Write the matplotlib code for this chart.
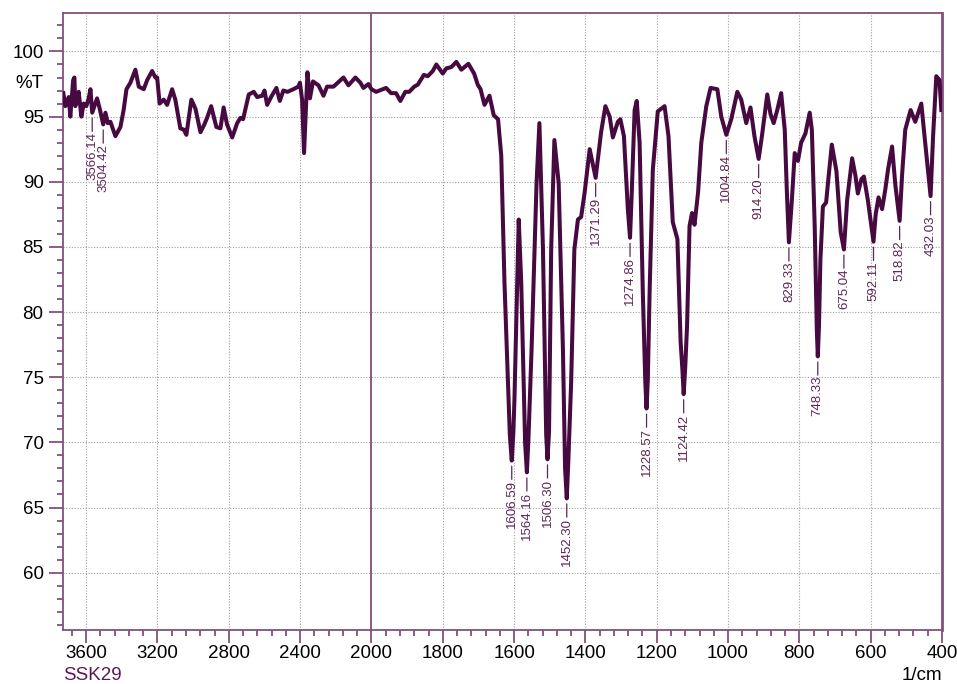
import matplotlib
matplotlib.use("Agg")
import matplotlib.pyplot as plt
import numpy as np
from matplotlib.ticker import FixedLocator, NullFormatter

plt.rcParams['font.family'] = ['Liberation Sans', 'DejaVu Sans']

# FTIR spectrum (wavenumber in 1/cm, %T)
wavenumber = [3728, 3717, 3698, 3689, 3673, 3666, 3661, 3651, 3642, 3627, 3614, 3599, 3586, 3576,
              3566.14, 3554, 3539, 3524, 3504.42, 3492, 3479, 3464, 3436, 3408, 3390, 3374, 3352,
              3324, 3305, 3277, 3258, 3230, 3212, 3202, 3188, 3165, 3146, 3118, 3100, 3072, 3053,
              3038, 3010, 2987, 2959, 2937, 2922, 2899, 2870, 2847, 2829, 2810, 2781, 2753, 2735,
              2720, 2688, 2660, 2641, 2613, 2600, 2585, 2563, 2533, 2514, 2494, 2471, 2438, 2410,
              2401, 2389, 2378, 2359, 2345, 2328, 2297, 2269, 2249, 2213, 2157, 2129, 2090, 2062,
              2045, 2017, 2000, 1987, 1959, 1945, 1931, 1919, 1905, 1894, 1880, 1870, 1853, 1842,
              1828, 1818, 1800, 1790, 1776, 1762, 1748, 1728, 1712, 1702, 1694, 1683, 1669, 1657,
              1645, 1636, 1627, 1617, 1612, 1606.59, 1602, 1599, 1587, 1580, 1569, 1564.16, 1560,
              1551, 1537, 1529, 1519, 1510, 1506.30, 1502, 1496, 1487, 1475, 1463, 1457, 1452.30,
              1448, 1440, 1431, 1421, 1412, 1402, 1388,
              1371.29, 1356, 1344, 1332, 1323, 1309, 1302, 1292, 1281, 1274.86, 1270, 1262, 1256,
              1248, 1239, 1232, 1228.57, 1225, 1220, 1211, 1197, 1178, 1167, 1155, 1142, 1133,
              1128, 1124.42, 1120, 1115,
              1108, 1101, 1094, 1084, 1075, 1061, 1049, 1030, 1019, 1004.84, 991, 974, 963, 949,
              937, 926, 914.20, 905, 890, 881, 872, 862, 851, 841, 835, 829.33, 821, 813, 804, 795,
              783, 771, 765, 757, 751, 748.33, 745, 741, 734, 725, 718, 709, 696, 684, 675.04, 666,
              652, 643, 636, 626, 619, 608, 592.11, 586, 578, 568, 559, 551, 540, 531, 518.82, 512,
              503, 488, 475, 458, 449, 432.03, 425, 416, 407, 402]
transmittance = [96.8, 95.8, 96.5, 95.0, 97.8, 98.0, 95.8, 96.4, 96.9, 95.0, 96.0, 95.8, 96.4, 97.1,
                 95.3, 95.8, 96.4, 95.6, 94.4, 95.3, 94.5, 94.6, 93.5, 94.2, 95.5, 97.1, 97.6,
                 98.6, 97.3, 97.1, 97.8, 98.5, 98.0, 98.0, 96.0, 96.3, 95.9, 97.1, 96.3, 94.1, 94.0,
                 93.6, 96.3, 95.6, 93.8, 94.4, 94.9, 95.8, 94.2, 94.1, 95.7, 94.4, 93.4, 94.5, 94.9,
                 94.8, 96.7, 96.9, 96.5, 96.6, 97.0, 95.9, 96.5, 97.2, 96.2, 97.0, 96.9, 97.1, 97.3,
                 97.6, 96.3, 92.2, 98.4, 96.4, 97.7, 97.4, 96.6, 97.3, 97.3, 98.0, 97.4, 98.0, 97.6,
                 97.2, 97.5, 97.1, 96.9, 97.2, 96.8, 96.8, 96.2, 96.9, 96.9, 97.3, 97.45, 98.2, 98.1,
                 98.5, 99.0, 98.3, 98.7, 98.8, 99.2, 98.6, 99.05, 98.3, 97.45, 97.1, 95.9, 96.6, 95.1,
                 94.8, 92.0, 82.3, 74.6, 70.6, 68.6, 70.8, 73.3, 87.1, 82.3, 69.9, 67.7, 70.1,
                 77.1, 89.9, 94.5, 84.8, 70.6, 68.7, 70.8, 84.8, 93.2, 89.9, 77.1, 68.0, 65.7,
                 68.5, 74.6, 84.8, 87.1, 87.3, 89.2, 92.5,
                 90.3, 93.8, 95.8, 95.0, 93.4, 94.6, 94.8, 93.5, 87.9, 85.7, 89.2, 95.5, 96.2,
                 93.0, 81.5, 74.6, 72.6, 74.8, 81.5, 90.9, 95.4, 95.8, 93.5, 86.9, 85.6, 77.7,
                 75.6, 73.7, 75.8, 78.9,
                 86.6, 87.6, 86.7, 89.2, 93.0, 95.8, 97.2, 97.1, 95.0, 93.6, 94.8, 96.9, 96.3, 94.5,
                 95.7, 93.5, 91.75, 93.5, 96.7, 95.2, 94.5, 95.5, 96.8, 94.0, 89.2, 85.35, 88.6, 92.2,
                 91.6, 93.0, 93.7, 95.3, 94.0, 86.6, 78.6, 76.6, 78.9, 84.0, 88.1, 88.4, 90.4, 92.85,
                 90.8, 86.1, 84.8, 88.6, 91.8, 90.5, 89.1, 90.2, 90.4, 88.6, 85.4, 87.5, 88.8, 87.9,
                 89.4, 91.0, 92.7, 89.8, 87.0, 90.5, 94.0, 95.5, 94.6, 96.0, 93.5, 88.9, 93.5, 98.1,
                 97.8, 95.5]

# labelled peaks
peak_labels = ["3566.14", "3504.42", "1606.59", "1564.16", "1506.30", "1452.30", "1371.29",
               "1274.86", "1228.57", "1124.42", "1004.84", "914.20", "829.33", "748.33",
               "675.04", "592.11", "518.82", "432.03"]
peak_t = [95.3, 94.4, 68.6, 67.7, 68.7, 65.7, 90.3, 85.7, 72.6, 73.7, 93.6, 91.75, 85.35,
          76.6, 84.8, 85.4, 87.0, 88.9]

x_major = [3600, 3200, 2800, 2400, 2000, 1800, 1600, 1400, 1200, 1000, 800, 600, 400]
y_major = [60, 65, 70, 75, 80, 85, 90, 95, 100]

line_col = "#470a40"
axis_col = "#83507e"
label_col = "#5e2556"


# x scale is compressed by 2 above 2000 1/cm
def fwd(x):
    x = np.asarray(x, dtype=float)
    return np.where(x > 2000, 2000 + (x - 2000) / 2, x)


def inv(u):
    u = np.asarray(u, dtype=float)
    return np.where(u > 2000, 2000 + 2 * (u - 2000), u)


fig = plt.figure(figsize=(9.57, 6.84), dpi=100)
ax = fig.add_axes([63 / 957, 54 / 684, 879 / 957, 617 / 684])
ax.set_xscale('function', functions=(fwd, inv))
ax.set_xlim(3730, 400)
ax.set_ylim(55.6, 102.95)

ax.plot(wavenumber, transmittance, color=line_col, lw=2.9, solid_joinstyle='round', zorder=3)

# ticks
ax.xaxis.set_major_locator(FixedLocator(x_major))
x_minor = list(np.arange(3680, 2000, -80)) + list(np.arange(1960, 400, -40))
ax.xaxis.set_minor_locator(FixedLocator(x_minor))
ax.xaxis.set_minor_formatter(NullFormatter())
ax.yaxis.set_major_locator(FixedLocator(y_major))
ax.yaxis.set_minor_locator(FixedLocator(list(range(56, 103))))
ax.yaxis.set_minor_formatter(NullFormatter())
ax.set_xticklabels([str(v) for v in x_major])
ax.set_yticklabels([str(v) for v in y_major])

ax.tick_params(axis='both', which='major', direction='out', color=axis_col, width=1.3,
               labelsize=13.5, labelcolor='black')
ax.tick_params(axis='x', which='major', length=9, pad=1.5)
ax.tick_params(axis='y', which='major', length=10, pad=4)
ax.tick_params(axis='both', which='minor', direction='out', color=axis_col, width=1.3, length=4.5)

ax.grid(True, which='major', color='#a0a0a0', linestyle=(0, (1, 1.5)), lw=0.8, zorder=0)
ax.axvline(2000, color=axis_col, lw=1.3, zorder=2)

for s in ax.spines.values():
    s.set_color(axis_col)
    s.set_linewidth(1.3)
ax.spines['right'].set_linewidth(2)

# peak labels with leader lines touching the top of the text
for lab, t in zip(peak_labels, peak_t):
    xv = float(lab)
    ax.annotate(lab, xy=(xv, t), xytext=(0, -14), textcoords='offset points',
                rotation=90, ha='center', va='top', fontsize=9.5, color=label_col,
                arrowprops=dict(arrowstyle='-', color=label_col, lw=0.9, patchA=None,
                                relpos=(0.5, 1.0), shrinkA=0.5, shrinkB=4))

fig.text(29 / 957, 1 - 84 / 684, "%T", ha='center', va='center', fontsize=13.5)
fig.text(63 / 957, 1 - 676 / 684, "SSK29", ha='left', va='center', fontsize=13.5, color="#5a1a55")
fig.text(942 / 957, 1 - 676 / 684, "1/cm", ha='right', va='center', fontsize=13.5)

fig.savefig("out.png", dpi=100)
